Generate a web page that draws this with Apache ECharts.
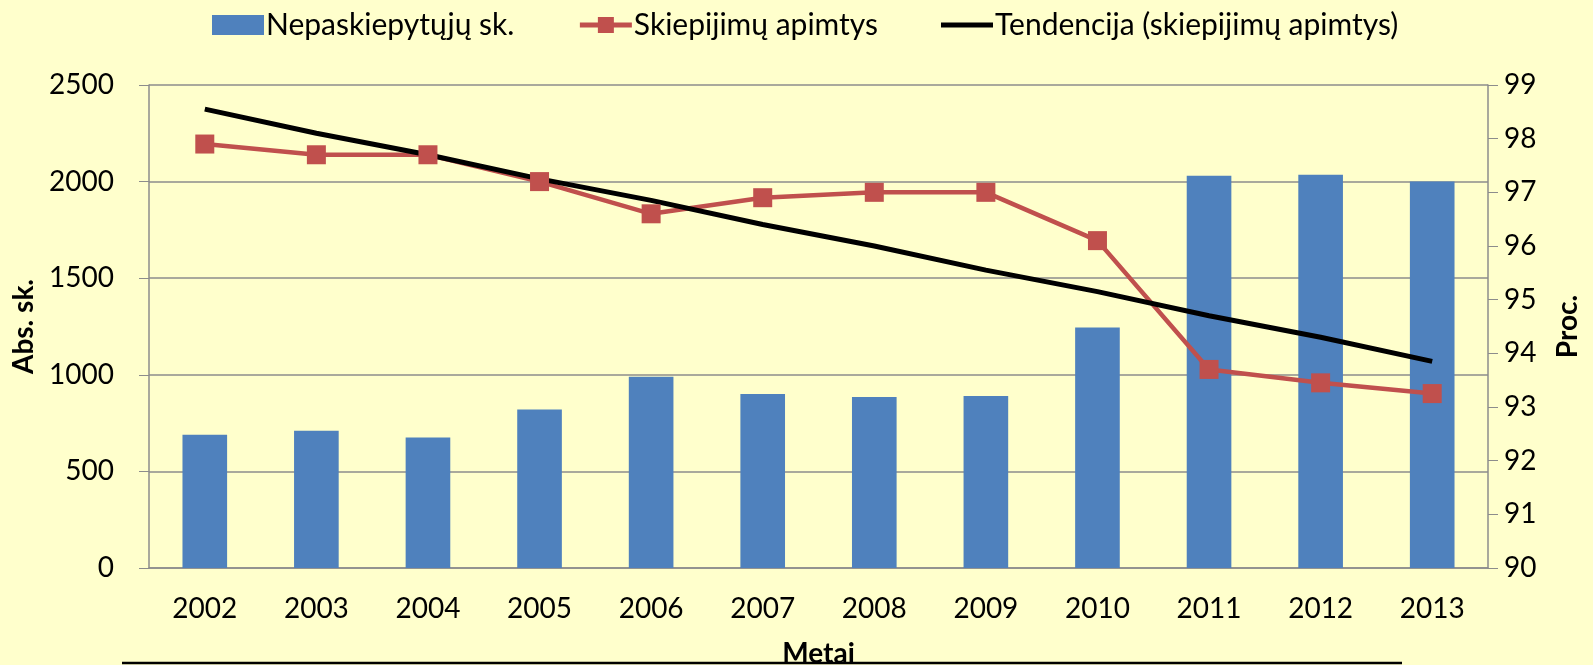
<!DOCTYPE html>
<html>
<head>
<meta charset="utf-8">
<script src="https://cdn.jsdelivr.net/npm/echarts@6/dist/echarts.min.js"></script>
<style>
  html, body { margin: 0; padding: 0; background: #ffffcc; }
  #chart { width: 1593px; height: 665px; }
</style>
</head>
<body>
<div id="chart"></div>
<script>
const years = ["2002", "2003", "2004", "2005", "2006", "2007", "2008", "2009", "2010", "2011", "2012", "2013"];
// Nepaskiepytųjų sk. (kairė ašis)
const unvaccinated = [690, 710, 675, 820, 990, 900, 885, 890, 1245, 2030, 2035, 2000];
// Skiepijimų apimtys, % (dešinė ašis)
const coverage = [97.9, 97.7, 97.7, 97.2, 96.6, 96.9, 97.0, 97.0, 96.1, 93.7, 93.45, 93.25];
// Tendencija – nuskaityta nuo paveikslo
const trend = [98.55, 98.1, 97.7, 97.25, 96.85, 96.4, 96.0, 95.55, 95.15, 94.7, 94.3, 93.85];

const FONT = "Lato";
const GRAY = "#8c8c8c";
const FS = 28;

const chart = echarts.init(document.getElementById("chart"));

chart.setOption({
  backgroundColor: "#ffffcc",
  textStyle: { fontFamily: FONT, color: "#000" },
  legend: {
    top: 5,
    left: 207,
    itemGap: 63,
    itemWidth: 52,
    itemHeight: 20,
    lineStyle: { width: 5 },
    textStyle: { fontSize: 30, fontFamily: FONT, color: "#000", padding: [0, 0, 0, -3] },
    data: [
      { name: "Nepaskiepytųjų sk.", icon: "rect" },
      { name: "Skiepijimų apimtys" },
      { name: "Tendencija (skiepijimų apimtys)", icon: "path://M0,0 H52 V5 H0 Z" },
    ],
  },
  grid: { left: 149, right: 105, top: 85, bottom: 97, outerBoundsMode: "none", containLabel: false },
  xAxis: {
    type: "category",
    data: years,
    name: "Metai",
    nameLocation: "middle",
    nameGap: 72,
    nameTextStyle: { fontSize: FS, fontWeight: "bold", fontFamily: FONT },
    axisLine: { lineStyle: { color: GRAY, width: 1.5 } },
    axisTick: { length: 10, lineStyle: { color: GRAY } },
    axisLabel: { fontSize: FS, color: "#000", margin: 27 },
  },
  yAxis: [
    {
      type: "value",
      min: 0,
      max: 2500,
      interval: 500,
      name: "Abs. sk.",
      nameLocation: "middle",
      nameGap: 104,
      nameTextStyle: { fontSize: FS, fontWeight: "bold", fontFamily: FONT },
      axisLine: { show: true, lineStyle: { color: GRAY, width: 1.5 } },
      axisTick: { show: true, length: 10, lineStyle: { color: GRAY } },
      axisLabel: { fontSize: FS, color: "#000", margin: 35, formatter: (v) => String(v) },
      splitLine: { lineStyle: { color: GRAY, width: 1.5 } },
    },
    {
      type: "value",
      min: 90,
      max: 99,
      interval: 1,
      name: "Proc.",
      nameLocation: "middle",
      nameGap: 66,
      nameRotate: 90,
      nameTextStyle: { fontSize: FS, fontWeight: "bold", fontFamily: FONT },
      axisLine: { show: true, lineStyle: { color: GRAY, width: 1.5 } },
      axisTick: { show: true, length: 10, lineStyle: { color: GRAY } },
      axisLabel: { fontSize: FS, color: "#000", margin: 16 },
      splitLine: { show: false },
    },
  ],
  series: [
    {
      name: "Nepaskiepytųjų sk.",
      type: "bar",
      yAxisIndex: 0,
      barWidth: "40%",
      data: unvaccinated,
      itemStyle: { color: "#4f81bd" },
    },
    {
      name: "Skiepijimų apimtys",
      type: "line",
      yAxisIndex: 1,
      data: coverage,
      symbol: "rect",
      symbolSize: 19,
      itemStyle: { color: "#c0504d" },
      lineStyle: { color: "#c0504d", width: 4.5 },
    },
    {
      name: "Tendencija (skiepijimų apimtys)",
      type: "line",
      yAxisIndex: 1,
      data: trend,
      symbol: "none",
      itemStyle: { color: "#000" },
      lineStyle: { color: "#000", width: 5 },
    },
  ],
  graphic: [
    {
      type: "line",
      shape: { x1: 122, y1: 663, x2: 1402, y2: 663 },
      style: { stroke: "#000", lineWidth: 2.5 },
      z: 100,
    },
  ],
});
</script>
</body>
</html>
